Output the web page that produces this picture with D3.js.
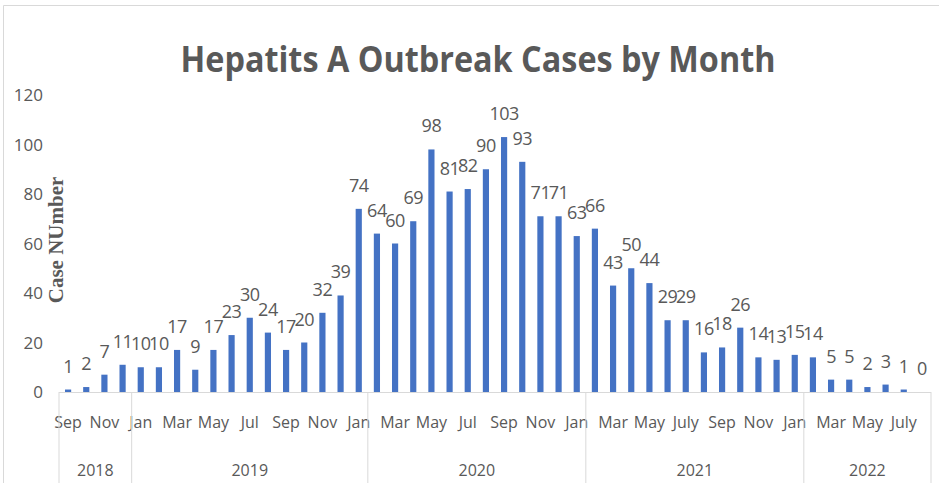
<!DOCTYPE html>
<html>
<head>
<meta charset="utf-8">
<script src="https://cdn.jsdelivr.net/npm/d3@7.9.0/dist/d3.min.js"></script>
<style>
  body { margin: 0; background: #fff; }
  text { font-family: "Open Sans", "Noto Sans", sans-serif; fill: #595959; }
</style>
</head>
<body>
<svg id="chart" width="939" height="483"></svg>
<script>
// monthly case counts, Sep 2018 .. Aug 2022
const months = [
  "Sep", "Oct", "Nov", "Dec",
  "Jan", "Feb", "Mar", "Apr", "May", "Jun", "Jul", "Aug", "Sep", "Oct", "Nov", "Dec",
  "Jan", "Feb", "Mar", "Apr", "May", "Jun", "Jul", "Aug", "Sep", "Oct", "Nov", "Dec",
  "Jan", "Feb", "Mar", "Apr", "May", "Jun", "July", "Aug", "Sep", "Oct", "Nov", "Dec",
  "Jan", "Feb", "Mar", "Apr", "May", "Jun", "July", "Aug"
];
const cases = [
  1, 2, 7, 11,
  10, 10, 17, 9, 17, 23, 30, 24, 17, 20, 32, 39,
  74, 64, 60, 69, 98, 81, 82, 90, 103, 93, 71, 71,
  63, 66, 43, 50, 44, 29, 29, 16, 18, 26, 14, 13,
  15, 14, 5, 5, 2, 3, 1, 0
];
// year groups as drawn on the category axis (number of bars in each)
const groupYears = ["2018", "2019", "2020", "2021", "2022"];
const groupSizes = [4, 13, 12, 12, 7];
const yTicks = [0, 20, 40, 60, 80, 100, 120];

const svg = d3.select("#chart");
const plotLeft = 59, plotRight = 931, plotTop = 95, plotBottom = 392;

const x = d3.scaleBand()
  .domain(d3.range(cases.length))
  .range([plotLeft, plotRight])
  .paddingInner(0.66)
  .paddingOuter(0.33);

const y = d3.scaleLinear().domain([0, 120]).range([plotBottom, plotTop]);

// outer chart frame (left and top edges visible)
svg.append("path")
  .attr("d", "M3.5,483 V5.5 H939")
  .attr("fill", "none")
  .attr("stroke", "#d9d9d9");

svg.append("text")
  .attr("x", 478)
  .attr("y", 72)
  .attr("text-anchor", "middle")
  .attr("font-size", 36)
  .attr("font-weight", "bold")
  .attr("textLength", 595)
  .attr("lengthAdjust", "spacingAndGlyphs")
  .text("Hepatits A Outbreak Cases by Month");

// y axis labels, no axis line
svg.append("g")
  .selectAll("text")
  .data(yTicks)
  .join("text")
  .attr("x", 43)
  .attr("y", d => y(d) + 6)
  .attr("text-anchor", "end")
  .attr("font-size", 17)
  .text(d => d);

svg.append("text")
  .attr("transform", `translate(63,240) rotate(-90)`)
  .attr("text-anchor", "middle")
  .style("font-family", "'Liberation Serif', 'DejaVu Serif', serif")
  .attr("font-weight", "bold")
  .attr("font-size", 21)
  .text("Case NUmber");

svg.append("g")
  .selectAll("rect")
  .data(cases)
  .join("rect")
  .attr("x", (d, i) => x(i))
  .attr("y", d => y(d))
  .attr("width", x.bandwidth())
  .attr("height", d => plotBottom - y(d))
  .attr("fill", "#4472c4");

svg.append("g")
  .selectAll("text")
  .data(cases)
  .join("text")
  .attr("x", (d, i) => x(i) + x.bandwidth() / 2)
  .attr("y", d => y(d) - 17)
  .attr("text-anchor", "middle")
  .attr("font-size", 18)
  .attr("letter-spacing", -0.5)
  .text(d => d);

// category axis
const step = x.step();
svg.append("line")
  .attr("x1", plotLeft).attr("x2", plotRight)
  .attr("y1", plotBottom + 0.5).attr("y2", plotBottom + 0.5)
  .attr("stroke", "#d9d9d9");

svg.append("g")
  .selectAll("text")
  .data(months.map((m, i) => ({ m, i })).filter(d => d.i % 2 === 0))
  .join("text")
  .attr("x", d => x(d.i) + x.bandwidth() / 2)
  .attr("y", 428)
  .attr("text-anchor", "middle")
  .attr("font-size", 16)
  .text(d => d.m);

const starts = [0];
groupSizes.forEach((n, i) => starts.push(starts[i] + n));

svg.append("g")
  .selectAll("line")
  .data(starts)
  .join("line")
  .attr("x1", d => plotLeft + d * step)
  .attr("x2", d => plotLeft + d * step)
  .attr("y1", plotBottom)
  .attr("y2", 483)
  .attr("stroke", "#d9d9d9");

svg.append("g")
  .selectAll("text")
  .data(groupYears)
  .join("text")
  .attr("x", (d, i) => plotLeft + (starts[i] + groupSizes[i] / 2) * step)
  .attr("y", 476)
  .attr("text-anchor", "middle")
  .attr("font-size", 16)
  .text(d => d);
</script>
</body>
</html>
